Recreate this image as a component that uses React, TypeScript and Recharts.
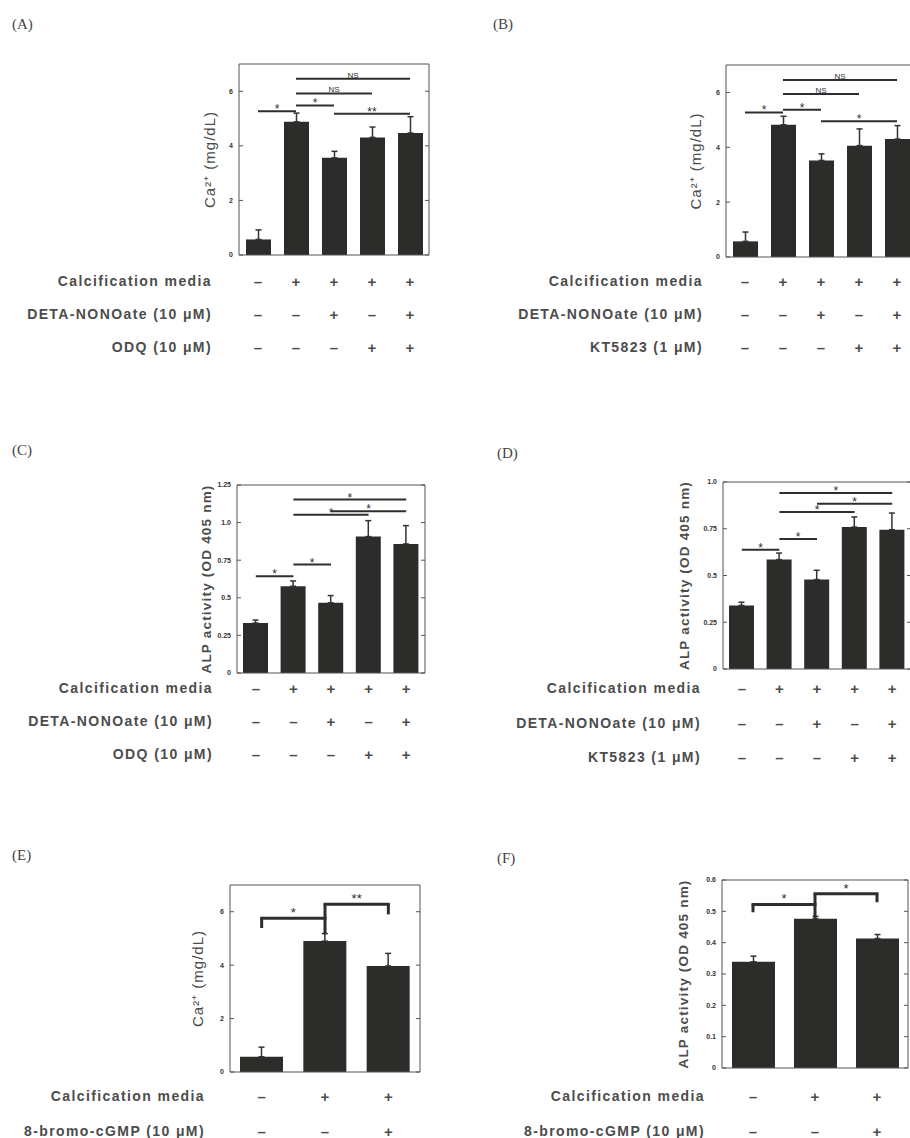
import React from 'react';
import { BarChart, Bar, XAxis, YAxis, ErrorBar, ReferenceLine } from 'recharts';

// ---------- data ----------
const cats5 = ['c1', 'c2', 'c3', 'c4', 'c5'];
const cats3 = ['c1', 'c2', 'c3'];

const caMeansA = [0.57, 4.88, 3.56, 4.31, 4.47];
const caErrA = [0.35, 0.32, 0.24, 0.38, 0.6];
const caMeansB = [0.57, 4.82, 3.52, 4.06, 4.3];
const caErrB = [0.34, 0.31, 0.24, 0.61, 0.49];
const alpMeansC = [0.332, 0.577, 0.467, 0.907, 0.858];
const alpErrC = [0.02, 0.035, 0.048, 0.106, 0.122];
const alpMeansD = [0.34, 0.585, 0.478, 0.759, 0.745];
const alpErrD = [0.017, 0.035, 0.05, 0.054, 0.089];
const caMeansE = [0.57, 4.9, 3.97];
const caErrE = [0.36, 0.28, 0.47];
const alpMeansF = [0.339, 0.476, 0.413];
const alpErrF = [0.018, 0.008, 0.013];

const caTicks = [0, 2, 4, 6];
const caTickLabels = ['0', '2', '4', '6'];
const alpTicksC = [0, 0.25, 0.5, 0.75, 1, 1.25];
const alpTickLabelsC = ['0', '0.25', '0.5', '0.75', '1.0', '1.25'];
const alpTicksD = [0, 0.25, 0.5, 0.75, 1];
const alpTickLabelsD = ['0', '0.25', '0.5', '0.75', '1.0'];
const alpTicksF = [0, 0.1, 0.2, 0.3, 0.4, 0.5, 0.6];
const alpTickLabelsF = ['0', '0.1', '0.2', '0.3', '0.4', '0.5', '0.6'];

const rowLabelsODQ = ['Calcification media', 'DETA-NONOate (10 \u03BCM)', 'ODQ (10 \u03BCM)'];
const rowLabelsKT = ['Calcification media', 'DETA-NONOate (10 \u03BCM)', 'KT5823 (1 \u03BCM)'];
const rowLabelsCG = ['Calcification media', '8-bromo-cGMP (10 \u03BCM)'];
const signs5 = [
  ['\u2013', '+', '+', '+', '+'],
  ['\u2013', '\u2013', '+', '\u2013', '+'],
  ['\u2013', '\u2013', '\u2013', '+', '+'],
];
const signs3 = [
  ['\u2013', '+', '+'],
  ['\u2013', '\u2013', '+'],
];

type Sig = { from: string; to: string; y: number; label: string };
type Bracket = { from: string; to: string; y: number; leftDrop: number; rightDrop: number; label: string };

const sigA: Sig[] = [
  { from: 'c1', to: 'c2', y: 5.27, label: '*' },
  { from: 'c2', to: 'c3', y: 5.48, label: '*' },
  { from: 'c2', to: 'c4', y: 5.92, label: 'NS' },
  { from: 'c2', to: 'c5', y: 6.46, label: 'NS' },
  { from: 'c3', to: 'c5', y: 5.18, label: '**' },
];
const sigB: Sig[] = [
  { from: 'c1', to: 'c2', y: 5.27, label: '*' },
  { from: 'c2', to: 'c3', y: 5.37, label: '*' },
  { from: 'c2', to: 'c4', y: 5.94, label: 'NS' },
  { from: 'c2', to: 'c5', y: 6.45, label: 'NS' },
  { from: 'c3', to: 'c5', y: 4.95, label: '*' },
];
const sigC: Sig[] = [
  { from: 'c1', to: 'c2', y: 0.644, label: '*' },
  { from: 'c2', to: 'c3', y: 0.721, label: '*' },
  { from: 'c2', to: 'c4', y: 1.053, label: '*' },
  { from: 'c3', to: 'c5', y: 1.075, label: '*' },
  { from: 'c2', to: 'c5', y: 1.153, label: '*' },
];
const sigD: Sig[] = [
  { from: 'c1', to: 'c2', y: 0.638, label: '*' },
  { from: 'c2', to: 'c3', y: 0.695, label: '*' },
  { from: 'c2', to: 'c4', y: 0.84, label: '*' },
  { from: 'c3', to: 'c5', y: 0.884, label: '*' },
  { from: 'c2', to: 'c5', y: 0.941, label: '*' },
];
const bracketsE: Bracket[] = [
  { from: 'c1', to: 'c2', y: 5.76, leftDrop: 5.39, rightDrop: 5.76, label: '*' },
  { from: 'c2', to: 'c3', y: 6.28, leftDrop: 5.16, rightDrop: 5.9, label: '**' },
];
const bracketsF: Bracket[] = [
  { from: 'c1', to: 'c2', y: 0.522, leftDrop: 0.497, rightDrop: 0.476, label: '*' },
  { from: 'c2', to: 'c3', y: 0.556, leftDrop: 0.522, rightDrop: 0.529, label: '*' },
];

// ---------- styles ----------
const FRAME = '#555';
const BAR = '#2c2c2a';
const INK = '#2e2e2e';
const TEXT = '#4c4c4c';
const SANS = '"Liberation Sans", Arial, Helvetica, sans-serif';

type PanelProps = {
  letter: string;
  letterX: number;
  letterY: number;
  plotL: number;
  plotT: number;
  plotW: number;
  plotH: number;
  max: number;
  ticks: number[];
  tickLabels: string[];
  yLabel: string;
  yLabelX: number;
  yLabelBold?: boolean;
  cats: string[];
  means: number[];
  errs: number[];
  barSize: number;
  rowLabels: string[];
  signs: string[][];
  rowY: number[];
  rowRight: number;
  sigs?: Sig[];
  brackets?: Bracket[];
};

function Panel(p: PanelProps) {
  const Yw = 70;
  const Rw = 12;
  const mt = 12;
  const chartLeft = p.plotL - Yw;
  const chartTop = p.plotT - mt;
  const plotB = p.plotT + p.plotH;
  const lastRow = p.rowY[p.rowY.length - 1];
  const Xh = lastRow - plotB + 20;
  const W = Yw + p.plotW + Rw;
  const H = mt + p.plotH + Xh;
  const data = p.cats.map((k, i) => ({ k, v: p.means[i], e: [0, p.errs[i]] }));
  const rowYc = p.rowY.map((y) => y - chartTop);

  const signTick = (tp: any) => {
    const idx = p.cats.indexOf(tp.payload.value);
    return (
      <g>
        {p.signs.map((row, r) => (
          <text
            key={r}
            x={tp.x}
            y={rowYc[r]}
            textAnchor="middle"
            dominantBaseline="central"
            fontSize={15}
            fontWeight="bold"
            fill={TEXT}
            fontFamily={SANS}
          >
            {row[idx]}
          </text>
        ))}
      </g>
    );
  };

  const fmt = (v: number) => {
    const i = p.ticks.findIndex((t) => Math.abs(t - v) < 1e-9);
    return i >= 0 ? p.tickLabels[i] : String(v);
  };

  return (
    <>
      <div
        style={{
          position: 'absolute',
          left: p.letterX,
          top: p.letterY,
          fontFamily: '"Liberation Serif", "Times New Roman", serif',
          fontSize: 15,
          color: '#444',
          lineHeight: 1,
        }}
      >
        {p.letter}
      </div>
      <div style={{ position: 'absolute', left: chartLeft, top: chartTop }}>
        <BarChart width={W} height={H} data={data} margin={{ top: mt, right: 0, bottom: 0, left: 0 }}>
          <XAxis
            dataKey="k"
            height={Xh}
            axisLine={{ stroke: FRAME }}
            tickLine={false}
            interval={0}
            tick={signTick}
          />
          <YAxis
            yAxisId="l"
            width={Yw}
            type="number"
            domain={[0, p.max]}
            ticks={p.ticks}
            interval={0}
            allowDataOverflow
            tickFormatter={fmt}
            tickSize={-4}
            tickMargin={10}
            axisLine={{ stroke: FRAME }}
            tickLine={{ stroke: FRAME }}
            tick={{ fontSize: 7, fill: '#333', fontFamily: SANS, fontWeight: 'bold' }}
            label={{
              value: p.yLabel,
              angle: -90,
              position: 'insideLeft',
              offset: p.yLabelX - chartLeft,
              style: {
                textAnchor: 'middle',
                fontSize: p.yLabelBold ? 13.5 : 15,
                fontWeight: p.yLabelBold ? 'bold' : 'normal',
                letterSpacing: p.yLabelBold ? 1.2 : 1,
                fill: TEXT,
                fontFamily: SANS,
              },
            }}
          />
          <YAxis
            yAxisId="r"
            orientation="right"
            width={Rw}
            type="number"
            domain={[0, p.max]}
            ticks={p.ticks}
            interval={0}
            allowDataOverflow
            tickSize={-4}
            axisLine={{ stroke: FRAME }}
            tickLine={{ stroke: FRAME }}
            tick={() => <g />}
          />
          <ReferenceLine yAxisId="l" y={p.max} stroke={FRAME} ifOverflow="visible" />
          <Bar yAxisId="l" dataKey="v" fill={BAR} barSize={p.barSize} isAnimationActive={false}>
            <ErrorBar dataKey="e" direction="y" width={3} stroke="#333" strokeWidth={1.5} />
          </Bar>
          {(p.sigs || []).map((s, i) => (
            <ReferenceLine
              key={'s' + i}
              yAxisId="l"
              ifOverflow="visible"
              segment={[
                { x: s.from, y: s.y },
                { x: s.to, y: s.y },
              ]}
              stroke={INK}
              strokeWidth={2}
              label={{
                value: s.label,
                position: 'top',
                offset: s.label === 'NS' ? 1 : -2,
                fontSize: s.label === 'NS' ? 8 : 12,
                fill: INK,
                fontFamily: SANS,
              }}
            />
          ))}
          {(p.brackets || []).map((b, i) => (
            <ReferenceLine
              key={'bh' + i}
              yAxisId="l"
              ifOverflow="visible"
              segment={[
                { x: b.from, y: b.y },
                { x: b.to, y: b.y },
              ]}
              stroke={INK}
              strokeWidth={3}
              strokeLinecap="square"
              label={{ value: b.label, position: 'top', offset: 1, fontSize: 13, fill: INK, fontFamily: SANS }}
            />
          ))}
          {(p.brackets || []).map((b, i) => (
            <ReferenceLine
              key={'bl' + i}
              yAxisId="l"
              ifOverflow="visible"
              segment={[
                { x: b.from, y: b.y },
                { x: b.from, y: b.leftDrop },
              ]}
              stroke={INK}
              strokeWidth={3}
            />
          ))}
          {(p.brackets || []).map((b, i) => (
            <ReferenceLine
              key={'br' + i}
              yAxisId="l"
              ifOverflow="visible"
              segment={[
                { x: b.to, y: b.y },
                { x: b.to, y: b.rightDrop },
              ]}
              stroke={INK}
              strokeWidth={3}
            />
          ))}
        </BarChart>
      </div>
      {p.rowLabels.map((lab, r) => (
        <div
          key={r}
          style={{
            position: 'absolute',
            right: 910 - p.rowRight,
            top: p.rowY[r] - 8,
            fontFamily: SANS,
            fontSize: 14,
            fontWeight: 'bold',
            letterSpacing: 1.4,
            color: TEXT,
            whiteSpace: 'nowrap',
            lineHeight: '16px',
          }}
        >
          {lab}
        </div>
      ))}
    </>
  );
}

export default function App() {
  return (
    <div
      style={{
        position: 'absolute',
        left: 0,
        top: 0,
        width: 910,
        height: 1138,
        overflow: 'hidden',
        background: '#fff',
      }}
    >
      <Panel
        letter="(A)" letterX={12} letterY={17}
        plotL={239} plotT={64} plotW={190} plotH={191}
        max={7} ticks={caTicks} tickLabels={caTickLabels}
        yLabel={'Ca\u00B2\u207A (mg/dL)'} yLabelX={210}
        cats={cats5} means={caMeansA} errs={caErrA} barSize={25}
        rowLabels={rowLabelsODQ} signs={signs5} rowY={[281, 314, 347]} rowRight={212}
        sigs={sigA}
      />
      <Panel
        letter="(B)" letterX={493} letterY={17}
        plotL={726} plotT={65} plotW={190} plotH={192}
        max={7} ticks={caTicks} tickLabels={caTickLabels}
        yLabel={'Ca\u00B2\u207A (mg/dL)'} yLabelX={696}
        cats={cats5} means={caMeansB} errs={caErrB} barSize={25}
        rowLabels={rowLabelsKT} signs={signs5} rowY={[281, 314, 347]} rowRight={703}
        sigs={sigB}
      />
      <Panel
        letter="(C)" letterX={12} letterY={443}
        plotL={237} plotT={485} plotW={188} plotH={188}
        max={1.25} ticks={alpTicksC} tickLabels={alpTickLabelsC}
        yLabel="ALP activity (OD 405 nm)" yLabelX={206} yLabelBold
        cats={cats5} means={alpMeansC} errs={alpErrC} barSize={25}
        rowLabels={rowLabelsODQ} signs={signs5} rowY={[688, 721, 754]} rowRight={213}
        sigs={sigC}
      />
      <Panel
        letter="(D)" letterX={497} letterY={446}
        plotL={723} plotT={482} plotW={188} plotH={187}
        max={1} ticks={alpTicksD} tickLabels={alpTickLabelsD}
        yLabel="ALP activity (OD 405 nm)" yLabelX={684} yLabelBold
        cats={cats5} means={alpMeansD} errs={alpErrD} barSize={25}
        rowLabels={rowLabelsKT} signs={signs5} rowY={[688, 723, 757]} rowRight={701}
        sigs={sigD}
      />
      <Panel
        letter="(E)" letterX={12} letterY={848}
        plotL={230} plotT={885} plotW={190} plotH={187}
        max={7} ticks={caTicks} tickLabels={caTickLabels}
        yLabel={'Ca\u00B2\u207A (mg/dL)'} yLabelX={198}
        cats={cats3} means={caMeansE} errs={caErrE} barSize={43}
        rowLabels={rowLabelsCG} signs={signs3} rowY={[1096, 1131]} rowRight={205}
        brackets={bracketsE}
      />
      <Panel
        letter="(F)" letterX={497} letterY={851}
        plotL={722} plotT={880} plotW={186} plotH={188}
        max={0.6} ticks={alpTicksF} tickLabels={alpTickLabelsF}
        yLabel="ALP activity (OD 405 nm)" yLabelX={683} yLabelBold
        cats={cats3} means={alpMeansF} errs={alpErrF} barSize={43}
        rowLabels={rowLabelsCG} signs={signs3} rowY={[1096, 1131]} rowRight={705}
        brackets={bracketsF}
      />
    </div>
  );
}
